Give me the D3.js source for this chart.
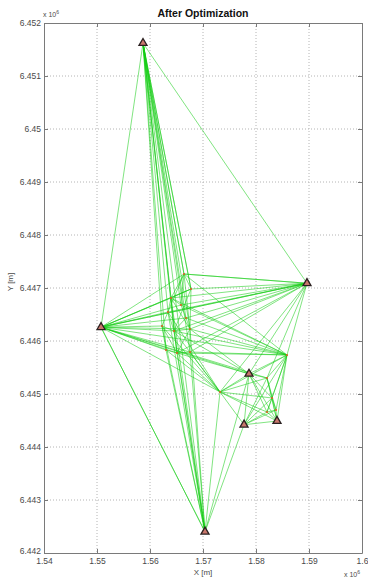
<!DOCTYPE html>
<html>
<head>
<meta charset="utf-8">
<script src="https://cdn.jsdelivr.net/npm/d3@7"></script>
<style>
  html, body { margin: 0; padding: 0; background: #fff; }
  svg { display: block; font-family: "Liberation Sans", Arial, sans-serif; }
</style>
</head>
<body>
<svg id="chart" width="368" height="577"></svg>
<script>
// Fixed control stations (triangles), coordinates in metres
const stationNames = ["T1", "T2", "T3", "T4", "T5", "T6", "T7"];
const stationX = [1558680, 1589620, 1550760, 1570380, 1578680, 1577740, 1583960];
const stationY = [6451620, 6447090, 6446260, 6442400, 6445380, 6444420, 6444490];

// Adjusted network points, coordinates in metres
const pointNames = ["P1", "P2", "P3", "P4", "P5", "P6", "P7", "P8", "P9", "P10", "P11", "P12", "P13", "P14", "P15", "P16", "P17", "P18"];
const pointX = [1566415, 1567736, 1563962, 1563396, 1562264, 1564528, 1567547, 1565094, 1585849, 1573208, 1582075, 1583019, 1582075, 1583774, 1565849, 1566793, 1563019, 1567547];
const pointY = [6447264, 6446981, 6446811, 6446547, 6446283, 6446189, 6446226, 6445774, 6445736, 6445038, 6445302, 6444925, 6444660, 6444698, 6446679, 6446434, 6445830, 6445792];

// Observed lines (from, to)
const obsFrom = [
  "T1","T1","T1","T1","T1","T1","T1","T1","T1","T1","T1","T1","T1","T1","T1","T1","T1",
  "P1","P1","P1","P2","P2","P2","P3","P3","P4","P4","P5","P5","P6","P6","P7","P3","P1",
  "P15","P15","P15","P16","P16","P17","P17","P18","P18",
  "T2","T2","T2","T2","T2","T2","T2","T2","T2","T2","T2","T2","T2","T2","T2","T2",
  "T3","T3","T3","T3","T3","T3","T3","T3","T3","T3","T3","T3","T3","T3","T3","T3","T3","T3","T3",
  "P9","P9","P9","P9","P9","P9","P9","P9","P9","P9","P9","P9","P9","P9","P9","P9",
  "P10","P10","P10","P10","P10","P10","P10","P10","P10","P10","P10","P10",
  "T4","T4","T4","T4","T4","T4","T4","T4","T4","T4","T4","T4",
  "T5","T5","T5","T5","T5","T5","T5","T5",
  "T6","T6","T6","T6","T6",
  "T7","T7","T7","T7",
  "P11","P11","P12","P12","P13"
];
const obsTo = [
  "P1","P2","P3","P4","P5","P6","P7","P8","T2","T3","P1","P2","T4","P15","P16","P17","P18",
  "P2","P3","P4","P3","P7","P6","P4","P6","P5","P6","P6","P8","P7","P8","P8","P7","P7",
  "P1","P3","P16","P7","P6","P5","P8","P8","P7",
  "P1","P2","P3","P4","P6","P7","P8","P9","T5","P11","T3","P1","P10","P15","P16","P18",
  "P1","P2","P3","P4","P5","P6","P7","P8","P9","P10","T5","T2","T4","P11","P2","P15","P16","P17","P18",
  "P1","P3","P6","P7","P8","P10","T5","P11","P12","P13","P14","T7","T6","P15","P16","P18",
  "P5","P6","P8","T5","P11","P12","P13","T6","T7","P4","P17","P18",
  "P5","P6","P8","P10","T5","T6","P3","P4","T3","P7","P17","P18",
  "P11","P12","P13","T6","T7","P8","P6","P7",
  "P12","P13","P14","T7","P11",
  "P12","P13","P14","P11",
  "P12","P14","P13","P14","P14"
];

// Axis ticks (values in units of 10^6 m)
const xTickValues = [1.54, 1.55, 1.56, 1.57, 1.58, 1.59, 1.60];
const xTickLabels = ["1.54", "1.55", "1.56", "1.57", "1.58", "1.59", "1.6"];
const yTickValues = [6.442, 6.443, 6.444, 6.445, 6.446, 6.447, 6.448, 6.449, 6.450, 6.451, 6.452];
const yTickLabels = ["6.442", "6.443", "6.444", "6.445", "6.446", "6.447", "6.448", "6.449", "6.45", "6.451", "6.452"];

const margin = { left: 44, top: 23, right: 6, bottom: 24 };
const W = 368, H = 577;
const iw = W - margin.left - margin.right;
const ih = H - margin.top - margin.bottom;

const svg = d3.select("#chart");
const g = svg.append("g").attr("transform", `translate(${margin.left},${margin.top})`);

const x = d3.scaleLinear().domain([1.54e6, 1.60e6]).range([0, iw]);
const y = d3.scaleLinear().domain([6.442e6, 6.452e6]).range([ih, 0]);

// Dotted grid
const gridX = xTickValues.slice(1, -1), gridY = yTickValues.slice(1, -1);
g.append("g").selectAll("line").data(gridX).join("line")
  .attr("x1", d => x(d * 1e6)).attr("x2", d => x(d * 1e6))
  .attr("y1", 0).attr("y2", ih)
  .attr("stroke", "#b4b4b4").attr("stroke-width", 1).attr("stroke-dasharray", "1,2");
g.append("g").selectAll("line").data(gridY).join("line")
  .attr("y1", d => y(d * 1e6)).attr("y2", d => y(d * 1e6))
  .attr("x1", 0).attr("x2", iw)
  .attr("stroke", "#b4b4b4").attr("stroke-width", 1).attr("stroke-dasharray", "1,2");

// Lookup of all network coordinates
const coords = new Map();
stationNames.forEach((n, i) => coords.set(n, [stationX[i], stationY[i]]));
pointNames.forEach((n, i) => coords.set(n, [pointX[i], pointY[i]]));
const obs = obsFrom.map((f, i) => [coords.get(f), coords.get(obsTo[i])]);

// Observation lines
g.append("g").selectAll("line").data(obs).join("line")
  .attr("x1", d => x(d[0][0])).attr("y1", d => y(d[0][1]))
  .attr("x2", d => x(d[1][0])).attr("y2", d => y(d[1][1]))
  .attr("stroke", "rgb(20,205,20)").attr("stroke-opacity", 0.6).attr("stroke-width", 0.9);

// Adjusted points
g.append("g").selectAll("circle").data(pointNames).join("circle")
  .attr("cx", (d, i) => x(pointX[i])).attr("cy", (d, i) => y(pointY[i]))
  .attr("r", 1.1).attr("fill", "#e0602a");

// Control stations
const tri = d3.symbol().type(d3.symbolTriangle).size(28);
g.append("g").selectAll("path").data(stationNames).join("path")
  .attr("d", tri)
  .attr("transform", (d, i) => `translate(${x(stationX[i])},${y(stationY[i])})`)
  .attr("fill", "#c9776c").attr("stroke", "#2a2020").attr("stroke-width", 1.3);

// Axes with inward ticks, box on
const axisColor = "#7a7a7a", labelColor = "#4a4a4a";
function styleAxis(sel) {
  sel.selectAll("path.domain").attr("stroke", axisColor);
  sel.selectAll(".tick line").attr("stroke", axisColor);
  sel.selectAll("text").attr("fill", labelColor).style("font-size", "8.5px")
     .style("font-family", "'Liberation Sans', Arial, sans-serif");
}
g.append("g").attr("transform", `translate(0,${ih})`)
  .call(d3.axisBottom(x).tickValues(xTickValues.map(v => v * 1e6))
    .tickFormat((d, i) => xTickLabels[i]).tickSizeInner(-4).tickSizeOuter(0).tickPadding(5))
  .call(styleAxis);
g.append("g")
  .call(d3.axisLeft(y).tickValues(yTickValues.map(v => v * 1e6))
    .tickFormat((d, i) => yTickLabels[i]).tickSizeInner(-4).tickSizeOuter(0).tickPadding(3))
  .call(styleAxis);
g.append("g")
  .call(d3.axisTop(x).tickValues(xTickValues.map(v => v * 1e6))
    .tickFormat("").tickSizeInner(-4).tickSizeOuter(0))
  .call(styleAxis);
g.append("g").attr("transform", `translate(${iw},0)`)
  .call(d3.axisRight(y).tickValues(yTickValues.map(v => v * 1e6))
    .tickFormat("").tickSizeInner(-4).tickSizeOuter(0))
  .call(styleAxis);

// Nudge the lowest y label up so it clears the first x label
g.selectAll("text").filter(function () { return this.textContent === "6.442"; })
  .attr("dy", "0.1em");

// Title and axis labels
svg.append("text").attr("x", margin.left + iw / 2).attr("y", 17)
  .attr("text-anchor", "middle").attr("fill", "#111")
  .style("font-size", "10.5px").style("font-weight", "bold")
  .text("After Optimization");
svg.append("text").attr("x", margin.left + iw / 2).attr("y", 575)
  .attr("text-anchor", "middle").attr("fill", labelColor).style("font-size", "8px")
  .text("X [m]");
svg.append("text").attr("transform", `translate(13,282) rotate(-90)`)
  .attr("text-anchor", "middle").attr("fill", labelColor).style("font-size", "8px")
  .text("Y [m]");

// Exponent labels
function expLabel(px, py) {
  const t = svg.append("text").attr("x", px).attr("y", py)
    .attr("fill", labelColor).style("font-size", "7px");
  t.append("tspan").text("x 10");
  t.append("tspan").attr("dy", -3).style("font-size", "5px").text("6");
}
expLabel(43, 17);
expLabel(344, 577);
</script>
</body>
</html>
